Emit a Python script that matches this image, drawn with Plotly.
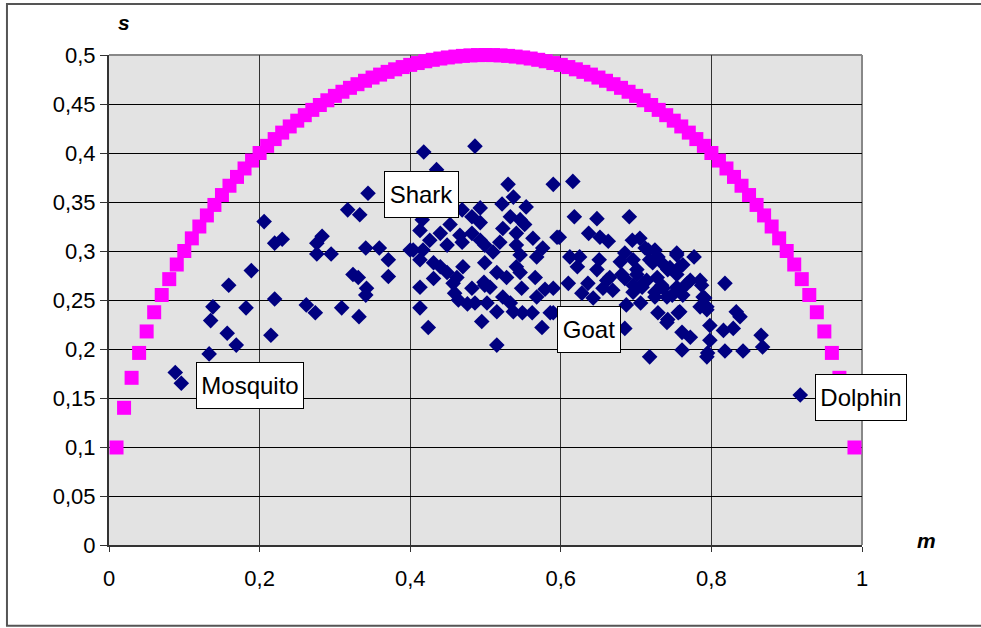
import plotly.graph_objects as go

# Boundary curve (magenta squares)
m_curve = [0.01, 0.02, 0.03, 0.04, 0.05, 0.06, 0.07, 0.08, 0.09, 0.10,
           0.11, 0.12, 0.13, 0.14, 0.15, 0.16, 0.17, 0.18, 0.19, 0.20,
           0.21, 0.22, 0.23, 0.24, 0.25, 0.26, 0.27, 0.28, 0.29, 0.30,
           0.31, 0.32, 0.33, 0.34, 0.35, 0.36, 0.37, 0.38, 0.39, 0.40,
           0.41, 0.42, 0.43, 0.44, 0.45, 0.46, 0.47, 0.48, 0.49, 0.50,
           0.51, 0.52, 0.53, 0.54, 0.55, 0.56, 0.57, 0.58, 0.59, 0.60,
           0.61, 0.62, 0.63, 0.64, 0.65, 0.66, 0.67, 0.68, 0.69, 0.70,
           0.71, 0.72, 0.73, 0.74, 0.75, 0.76, 0.77, 0.78, 0.79, 0.80,
           0.81, 0.82, 0.83, 0.84, 0.85, 0.86, 0.87, 0.88, 0.89, 0.90,
           0.91, 0.92, 0.93, 0.94, 0.95, 0.96, 0.97, 0.98, 0.99]
s_curve = [0.0995, 0.1400, 0.1706, 0.1960, 0.2179, 0.2375, 0.2551, 0.2713, 0.2862, 0.3000,
           0.3129, 0.3250, 0.3363, 0.3470, 0.3571, 0.3666, 0.3756, 0.3842, 0.3923, 0.4000,
           0.4073, 0.4142, 0.4208, 0.4271, 0.4330, 0.4386, 0.4440, 0.4490, 0.4538, 0.4583,
           0.4625, 0.4665, 0.4702, 0.4737, 0.4770, 0.4800, 0.4828, 0.4854, 0.4877, 0.4899,
           0.4918, 0.4936, 0.4951, 0.4964, 0.4975, 0.4984, 0.4991, 0.4996, 0.4999, 0.5000,
           0.4999, 0.4996, 0.4991, 0.4984, 0.4975, 0.4964, 0.4951, 0.4936, 0.4918, 0.4899,
           0.4877, 0.4854, 0.4828, 0.4800, 0.4770, 0.4737, 0.4702, 0.4665, 0.4625, 0.4583,
           0.4538, 0.4490, 0.4440, 0.4386, 0.4330, 0.4271, 0.4208, 0.4142, 0.4073, 0.4000,
           0.3923, 0.3842, 0.3756, 0.3666, 0.3571, 0.3470, 0.3363, 0.3250, 0.3129, 0.3000,
           0.2862, 0.2713, 0.2551, 0.2375, 0.2179, 0.1960, 0.1706, 0.1400, 0.0995]

# Species (navy diamonds)
m_species = [
    0.344, 0.317, 0.333, 0.206, 0.220, 0.230, 0.283, 0.276, 0.276, 0.295,
    0.341, 0.359, 0.371, 0.371, 0.400, 0.189, 0.159, 0.324, 0.331, 0.342,
    0.341, 0.220, 0.138, 0.182, 0.262, 0.274, 0.309, 0.332, 0.135, 0.157,
    0.169, 0.215, 0.133, 0.088, 0.096,
    0.418, 0.486, 0.435, 0.530, 0.590, 0.537, 0.522, 0.554, 0.493, 0.469,
    0.482, 0.533, 0.546, 0.493, 0.453, 0.416, 0.413, 0.552, 0.523, 0.440,
    0.466, 0.482, 0.541, 0.595, 0.426, 0.563, 0.493, 0.519, 0.449, 0.469,
    0.499, 0.541, 0.576, 0.404, 0.417, 0.510, 0.546, 0.568, 0.413, 0.431,
    0.470, 0.499, 0.440, 0.541, 0.449, 0.515, 0.431, 0.528, 0.546, 0.462,
    0.566, 0.457, 0.413, 0.482, 0.499, 0.548, 0.579, 0.459, 0.523, 0.568,
    0.464, 0.486, 0.502, 0.533, 0.413, 0.515, 0.537, 0.549, 0.562, 0.586,
    0.495, 0.424, 0.575, 0.515, 0.506, 0.476, 0.498,
    0.616, 0.618, 0.648, 0.691, 0.598, 0.637, 0.652, 0.663, 0.695, 0.705,
    0.612, 0.625, 0.651, 0.685, 0.712, 0.725, 0.754, 0.777, 0.622, 0.648,
    0.679, 0.696, 0.718, 0.734, 0.762, 0.745, 0.610, 0.636, 0.665, 0.681,
    0.701, 0.714, 0.728, 0.754, 0.772, 0.787, 0.628, 0.656, 0.669, 0.696,
    0.708, 0.736, 0.758, 0.643, 0.725, 0.741, 0.789, 0.687, 0.706, 0.794,
    0.729, 0.756, 0.741, 0.685, 0.798, 0.761, 0.772, 0.798, 0.761, 0.795,
    0.718, 0.590, 0.590,
    0.818, 0.791, 0.794, 0.833, 0.838, 0.816, 0.829, 0.866, 0.818, 0.842,
    0.868, 0.794, 0.918,
    0.716, 0.729, 0.754, 0.701, 0.722, 0.742, 0.758, 0.661, 0.685, 0.709,
    0.734, 0.754, 0.768, 0.785, 0.696, 0.725, 0.748, 0.762, 0.742, 0.758,
    0.785]
s_species = [
    0.359, 0.342, 0.337, 0.330, 0.308, 0.312, 0.315, 0.308, 0.297, 0.297,
    0.303, 0.303, 0.291, 0.274, 0.301, 0.280, 0.265, 0.276, 0.273, 0.262,
    0.255, 0.251, 0.243, 0.242, 0.245, 0.237, 0.242, 0.233, 0.229, 0.216,
    0.204, 0.214, 0.195, 0.176, 0.165,
    0.401, 0.407, 0.383, 0.368, 0.368, 0.355, 0.348, 0.345, 0.344, 0.342,
    0.335, 0.335, 0.332, 0.329, 0.327, 0.332, 0.321, 0.327, 0.323, 0.318,
    0.316, 0.318, 0.318, 0.314, 0.311, 0.313, 0.311, 0.309, 0.306, 0.309,
    0.306, 0.306, 0.303, 0.301, 0.301, 0.299, 0.296, 0.294, 0.291, 0.288,
    0.284, 0.288, 0.284, 0.284, 0.278, 0.278, 0.272, 0.273, 0.278, 0.273,
    0.273, 0.267, 0.263, 0.262, 0.265, 0.262, 0.261, 0.257, 0.253, 0.253,
    0.250, 0.247, 0.247, 0.247, 0.242, 0.238, 0.238, 0.237, 0.237, 0.237,
    0.228, 0.222, 0.222, 0.204, 0.263, 0.246, 0.268,
    0.371, 0.335, 0.333, 0.335, 0.314, 0.318, 0.314, 0.310, 0.311, 0.313,
    0.294, 0.294, 0.291, 0.298, 0.303, 0.301, 0.296, 0.294, 0.284, 0.281,
    0.289, 0.291, 0.291, 0.288, 0.286, 0.283, 0.267, 0.267, 0.273, 0.276,
    0.276, 0.270, 0.273, 0.276, 0.270, 0.265, 0.257, 0.262, 0.260, 0.265,
    0.263, 0.262, 0.260, 0.252, 0.253, 0.253, 0.253, 0.245, 0.247, 0.243,
    0.237, 0.237, 0.227, 0.221, 0.224, 0.217, 0.212, 0.209, 0.199, 0.196,
    0.192, 0.237, 0.262,
    0.267, 0.252, 0.240, 0.238, 0.233, 0.219, 0.221, 0.214, 0.198, 0.198,
    0.202, 0.192, 0.153,
    0.301, 0.294, 0.298, 0.281, 0.288, 0.281, 0.284, 0.270, 0.272, 0.267,
    0.265, 0.263, 0.267, 0.270, 0.258, 0.258, 0.255, 0.255, 0.230, 0.238,
    0.243]

# Callout labels
label_text = ["Shark", "Mosquito", "Goat", "Dolphin"]
label_m = [0.415, 0.187, 0.637, 0.999]
label_s = [0.358, 0.163, 0.220, 0.151]
label_box_w = [69, 102, 58, 86]

x_ticks = [0, 0.2, 0.4, 0.6, 0.8, 1]

FONT = "Liberation Sans, Arial, sans-serif"

fig = go.Figure()
fig.add_trace(go.Scatter(
    x=m_curve, y=s_curve, mode="markers",
    marker=dict(symbol="square", size=14, color="#FF00FF", line=dict(width=0)),
    cliponaxis=False, showlegend=False, hoverinfo="skip"))
fig.add_trace(go.Scatter(
    x=m_species, y=s_species, mode="markers",
    marker=dict(symbol="diamond", size=12, color="#000080", line=dict(width=0)),
    cliponaxis=False, showlegend=False, hoverinfo="skip"))

for t, xm, ys, w in zip(label_text, label_m, label_s, label_box_w):
    fig.add_annotation(x=xm, y=ys, xref="x", yref="y", text=t, showarrow=False,
                       xanchor="center", yanchor="middle", align="center", valign="middle",
                       width=w, height=41,
                       font=dict(family=FONT, size=24, color="black"),
                       bgcolor="white", bordercolor="black", borderwidth=1, borderpad=2)

# axis titles
fig.add_annotation(x=0.020, y=1.067, xref="paper", yref="paper", text="<b><i>s</i></b>",
                   showarrow=False, xanchor="center", yanchor="middle",
                   font=dict(family=FONT, size=21, color="black"))
fig.add_annotation(x=1.085, y=0.010, xref="paper", yref="paper", text="<b><i>m</i></b>",
                   showarrow=False, xanchor="center", yanchor="middle",
                   font=dict(family=FONT, size=21, color="black"))

# outer frame
fig.add_shape(type="rect", xref="paper", yref="paper",
              x0=-0.1355, x1=1.17, y0=-0.165, y1=1.104,
              line=dict(color="#555555", width=2), layer="below")
# plot area border (top & right)
fig.add_shape(type="line", xref="paper", yref="paper", x0=0, x1=1, y0=1, y1=1,
              line=dict(color="#888888", width=2), layer="below")
fig.add_shape(type="line", xref="paper", yref="paper", x0=1, x1=1, y0=0, y1=1,
              line=dict(color="#888888", width=2), layer="below")

fig.update_layout(
    width=981, height=628,
    margin=dict(l=109, r=119, t=55, b=83, autoexpand=False),
    paper_bgcolor="white", plot_bgcolor="#E3E3E3",
    separators=", ",
    font=dict(family=FONT, size=22, color="black"),
    showlegend=False,
)
fig.update_xaxes(range=[0, 1], tickvals=x_ticks, showgrid=True, gridcolor="#333333", gridwidth=1,
                 zeroline=False, showline=True, linecolor="#333333", linewidth=2,
                 ticks="outside", ticklen=5, tickcolor="#333333", ticklabelstandoff=8,
                 tickfont=dict(family=FONT, size=22, color="black"))
fig.update_yaxes(range=[0, 0.5], dtick=0.05, tick0=0, showgrid=True, gridcolor="black", gridwidth=1,
                 zeroline=False, showline=True, linecolor="#333333", linewidth=2,
                 ticks="outside", ticklen=7, tickcolor="#333333",
                 tickfont=dict(family=FONT, size=22, color="black"))

fig.write_html("out.html",
               config={"displayModeBar": False, "staticPlot": True},
               post_script="document.body.style.margin='0';document.body.style.overflow='hidden';")
